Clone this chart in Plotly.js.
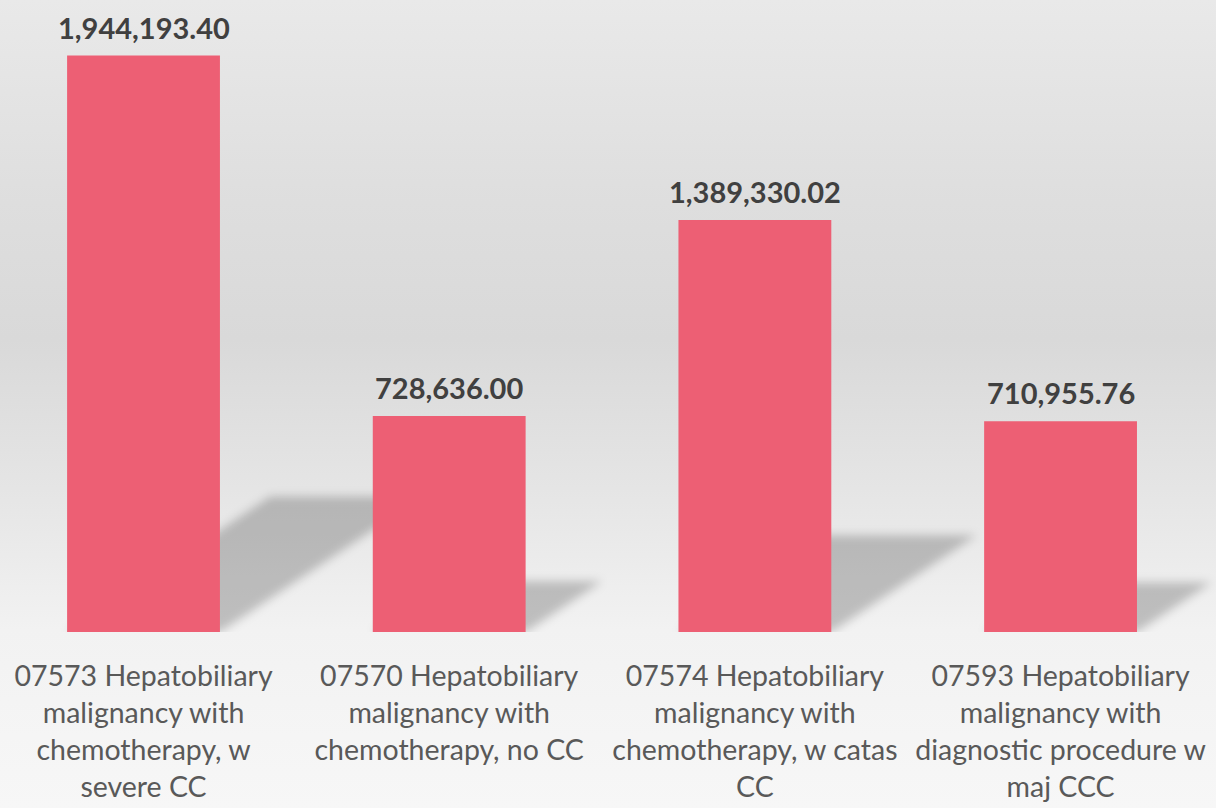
<!DOCTYPE html>
<html>
<head>
<meta charset="utf-8">
<script src="https://cdn.plot.ly/plotly-3.0.1.min.js"></script>
<style>
  html, body { margin: 0; padding: 0; }
  #chart {
    width: 1216px; height: 808px;
    background: linear-gradient(to bottom, #e9e9e9 0%, #dedede 25%, #d9d9d9 42%, #e6e6e6 62%, #f2f2f2 78%, #f7f7f7 100%);
  }
  .shapelayer path { filter: blur(5px); }
</style>
</head>
<body>
<div id="chart"></div>
<script>
const categories = [
  "07573 Hepatobiliary malignancy with chemotherapy, w severe CC",
  "07570 Hepatobiliary malignancy with chemotherapy, no CC",
  "07574 Hepatobiliary malignancy with chemotherapy, w catas CC",
  "07593 Hepatobiliary malignancy with diagnostic procedure w maj CCC"
];
const tickLabels = [
  "07573 Hepatobiliary<br>malignancy with<br>chemotherapy, w<br>severe CC",
  "07570 Hepatobiliary<br>malignancy with<br>chemotherapy, no CC",
  "07574 Hepatobiliary<br>malignancy with<br>chemotherapy, w catas<br>CC",
  "07593 Hepatobiliary<br>malignancy with<br>diagnostic procedure w<br>maj CCC"
];
const values = [1944193.40, 728636.00, 1389330.02, 710955.76];

const W = 1216, H = 808;
const mt = 0, mb = 176;
const plotH = H - mt - mb;
const yMax = 2131500;
const xRange = [-0.4695, 3.5085];
const pxPerCat = W / (xRange[1] - xRange[0]);
const pxPerUnit = plotH / yMax;
const barW = 0.5;

const fmt = v => v.toLocaleString('en-US', {minimumFractionDigits: 2, maximumFractionDigits: 2});

const xIdx = categories.map((c, i) => i);

// perspective shadows derived from bar values
const shapes = values.map((v, i) => {
  const hUnits = 0.235 * v;
  const shiftCat = 1.5 * hUnits * pxPerUnit / pxPerCat;
  const x0 = i - barW / 2, x1 = i + barW / 2;
  return {
    type: 'path', layer: 'below', xref: 'x', yref: 'y',
    path: `M ${x0} 0 L ${x1} 0 L ${x1 + shiftCat} ${hUnits} L ${x0 + shiftCat} ${hUnits} Z`,
    fillcolor: 'rgba(0,0,0,0.21)', line: {width: 0}
  };
});

const annotations = values.map((v, i) => ({
  x: i, y: v, xref: 'x', yref: 'y',
  text: fmt(v), showarrow: false, yanchor: 'bottom', yshift: 9,
  font: {family: 'Lato, sans-serif', size: 29, color: '#404040', weight: 'bold'}
}));

const trace = {
  type: 'bar', x: xIdx, y: values, width: barW,
  marker: {color: '#ED5F74', line: {width: 0}},
  hoverinfo: 'skip', cliponaxis: false
};

const layout = {
  width: W, height: H,
  margin: {l: 0, r: 0, t: mt, b: mb, pad: 0},
  paper_bgcolor: 'rgba(0,0,0,0)', plot_bgcolor: 'rgba(0,0,0,0)',
  showlegend: false,
  xaxis: {
    range: xRange, tickmode: 'array', tickvals: xIdx, ticktext: tickLabels,
    showgrid: false, zeroline: false, showline: false, ticks: '',
    tickfont: {family: 'Lato, sans-serif', size: 28.5, color: '#595959'},
    tickangle: 0, automargin: false, ticklabelstandoff: 24
  },
  yaxis: {range: [0, yMax], visible: false, showgrid: false, zeroline: false},
  shapes: shapes, annotations: annotations
};

Plotly.newPlot('chart', [trace], layout, {displayModeBar: false, staticPlot: true});
</script>
</body>
</html>
